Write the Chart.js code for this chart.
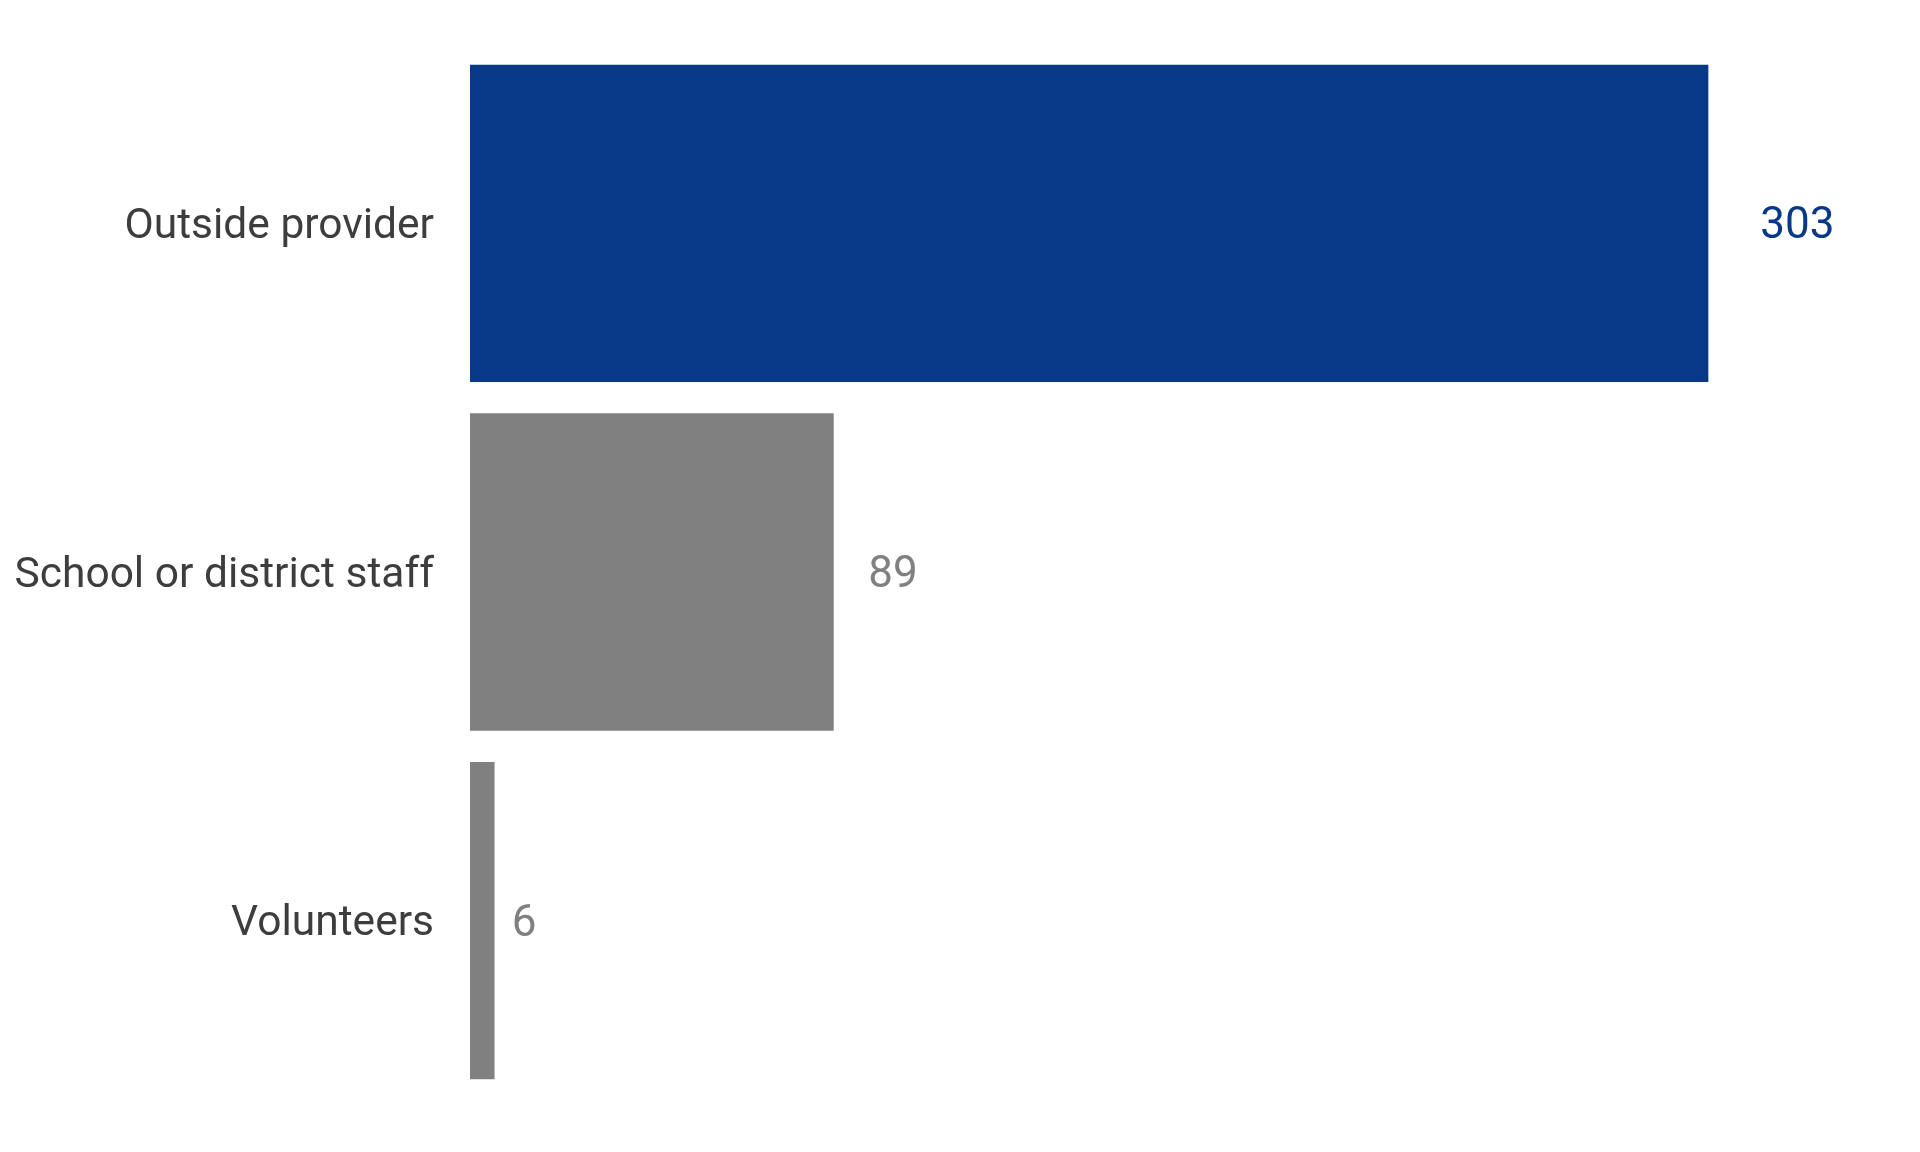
<!DOCTYPE html>
<html>
<head>
<meta charset="utf-8">
<script src="https://cdn.jsdelivr.net/npm/chart.js@4"></script>
<style>
  html, body { margin: 0; padding: 0; background: #fff; }
  #wrap { width: 1920px; height: 1152px; }
</style>
</head>
<body>
<div id="wrap"><canvas id="chart" width="1920" height="1152"></canvas></div>
<script>
// ── Data ─────────────────────────────────────────────────────────────────────
const categories = ["Outside provider", "School or district staff", "Volunteers"];
const values = [303, 89, 6];
const barColors = ["#083987", "#808080", "#808080"];

// ── Value labels after each bar ─────────────────────────────────────────────
const valueLabels = {
  id: "valueLabels",
  afterDatasetsDraw(chart) {
    const { ctx } = chart;
    const meta = chart.getDatasetMeta(0);
    ctx.save();
    ctx.font = "44px Roboto";
    ctx.textBaseline = "middle";
    ctx.textAlign = "left";
    meta.data.forEach((bar, i) => {
      const txt = String(values[i]);
      const w = ctx.measureText(txt).width;
      ctx.fillStyle = barColors[i];
      // gap after the bar grows with label width, as in the source
      ctx.fillText(txt, bar.x + w * 0.7, bar.y + 4);
    });
    ctx.restore();
  },
};

new Chart(document.getElementById("chart"), {
  type: "bar",
  data: {
    labels: categories,
    datasets: [{
      data: values,
      backgroundColor: barColors,
      borderWidth: 0,
      barPercentage: 1,
      categoryPercentage: 0.91,
    }],
  },
  options: {
    indexAxis: "y",
    responsive: false,
    animation: false,
    layout: { padding: { top: 49, bottom: 57, left: 0, right: 40 } },
    plugins: {
      legend: { display: false },
      tooltip: { enabled: false },
    },
    scales: {
      x: {
        display: false,
        min: 0,
        max: 345,
      },
      y: {
        grid: { display: false },
        border: { display: false },
        ticks: {
          color: "#3d3d3d",
          font: { family: "Roboto", size: 42.5 },
          padding: 28,
          labelOffset: 4,
        },
        afterFit(scale) {
          scale.width = 470;
          scale.paddingTop = 0;
          scale.paddingBottom = 0;
        },
      },
    },
  },
  plugins: [valueLabels],
});
</script>
</body>
</html>
